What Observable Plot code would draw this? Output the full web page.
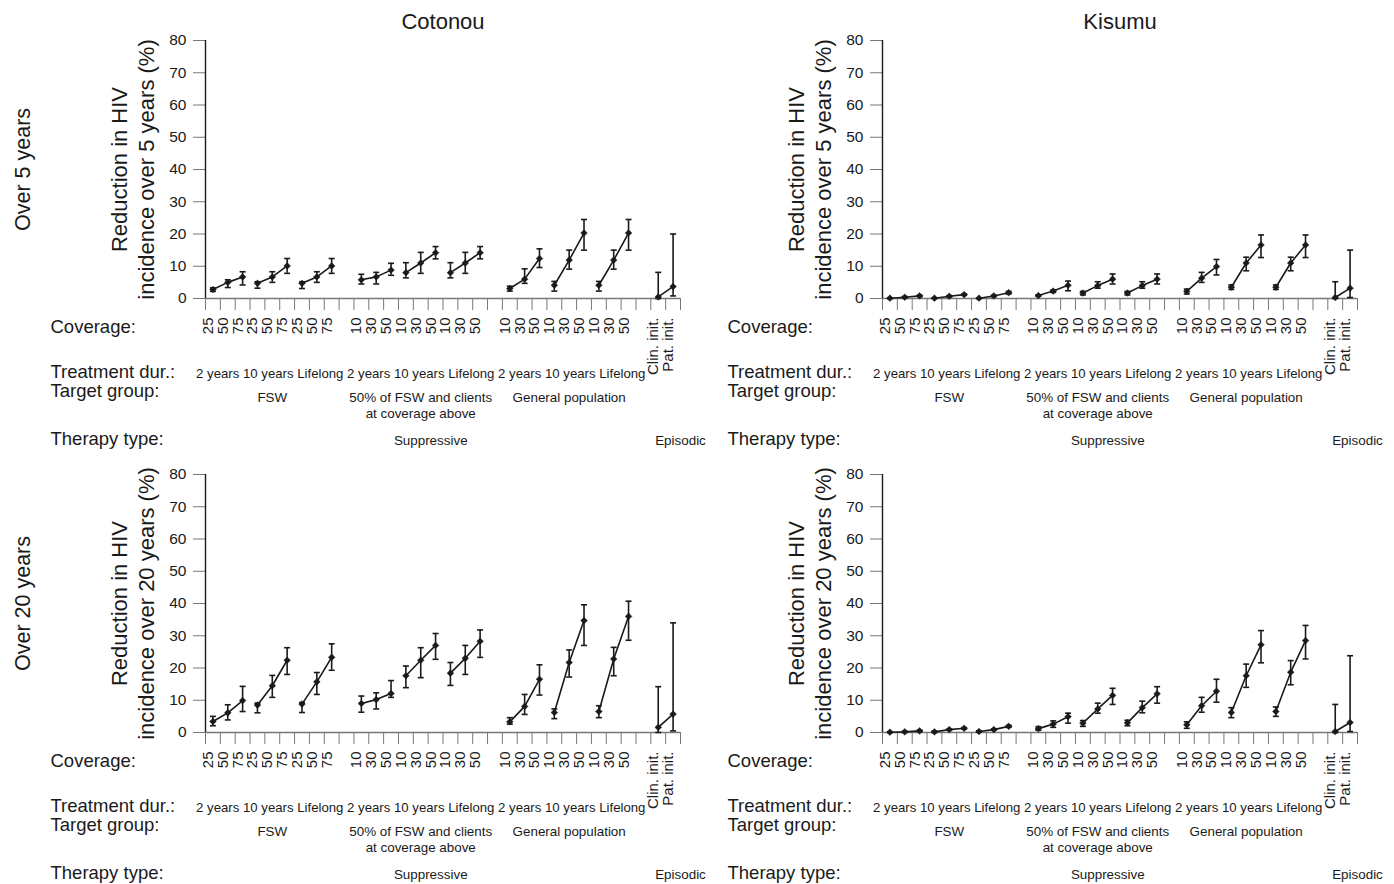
<!DOCTYPE html>
<html>
<head>
<meta charset="utf-8">
<script src="https://cdn.jsdelivr.net/npm/d3@7"></script>
<script src="https://cdn.jsdelivr.net/npm/@observablehq/plot@0.6"></script>
<style>
  html, body { margin: 0; padding: 0; background: #fff; }
  #root { position: relative; width: 1394px; height: 884px; overflow: hidden; }
  .panel { position: absolute; }
</style>
</head>
<body>
<div id="root"></div>
<script>
// ---------- DATA ----------
const cities = ["Cotonou", "Kisumu"];
const horizons = [5, 20];
const rowLabels = ["Over 5 years", "Over 20 years"];

const coverageLabels = ["25","50","75","25","50","75","25","50","75",
                        "10","30","50","10","30","50","10","30","50",
                        "10","30","50","10","30","50","10","30","50",
                        "Clin. init.","Pat. init."];
const durationLabels = ["2 years", "10 years", "Lifelong"];
const targetGroups = ["FSW", "50% of FSW and clients\nat coverage above", "General population"];
const therapyTypes = ["Suppressive", "Episodic"];

// Cotonou, over 5 years
const cot5Mean = [2.8,5.0,6.7, 4.7,6.7,10.1, 4.7,6.7,10.1, 5.8,6.7,8.8, 8.0,11.0,14.2, 8.0,11.0,14.2, 3.1,6.0,12.4, 4.1,11.9,20.3, 4.1,11.9,20.3, 0.5,3.7];
const cot5Lo   = [2.2,3.4,4.2, 3.2,5.0,7.8, 3.1,5.0,7.8, 4.5,4.5,7.2, 6.4,7.8,12.3, 6.4,7.8,12.3, 2.3,4.7,9.6, 2.3,9.1,15.0, 2.3,9.1,15.0, 0.0,0.8];
const cot5Hi   = [3.3,5.8,8.3, 5.2,8.3,12.4, 5.2,8.3,12.4, 7.5,8.1,10.9, 11.1,14.3,16.1, 11.1,14.3,16.1, 3.8,9.2,15.4, 5.3,15.0,24.5, 5.3,15.0,24.5, 8.1,20.0];

// Kisumu, over 5 years
const kis5Mean = [0.1,0.4,0.8, 0.1,0.7,1.2, 0.1,0.8,1.8, 0.9,2.3,4.1, 1.7,4.0,6.0, 1.7,4.0,6.0, 2.2,6.3,9.9, 3.5,11.0,16.6, 3.5,11.0,16.6, 0.3,3.2];
const kis5Lo   = [0.0,0.2,0.6, 0.0,0.5,1.0, 0.0,0.6,1.4, 0.7,1.9,2.4, 1.1,3.2,4.5, 1.1,3.2,4.5, 1.4,5.0,7.3, 2.8,8.6,12.7, 2.8,8.6,12.7, 0.0,0.3];
const kis5Hi   = [0.2,0.6,1.0, 0.2,0.9,1.4, 0.2,1.0,2.2, 1.1,2.6,5.4, 2.2,5.2,7.6, 2.2,5.2,7.6, 2.9,8.1,12.1, 4.2,12.8,19.7, 4.2,12.8,19.7, 5.2,15.0];

// Cotonou, over 20 years
const cot20Mean = [3.4,6.1,9.9, 8.5,14.5,22.4, 8.8,15.7,23.3, 9.0,10.2,12.1, 17.6,22.4,27.0, 18.4,23.0,28.3, 3.3,8.1,16.5, 6.2,21.7,34.7, 6.5,22.8,36.0, 1.6,5.7];
const cot20Lo   = [2.1,3.9,6.5, 6.1,10.9,18.0, 6.2,11.8,19.3, 6.3,7.3,10.9, 13.9,17.0,22.7, 14.6,18.0,23.3, 2.6,5.6,11.6, 4.3,17.2,27.0, 4.6,17.6,28.6, 0.0,0.5];
const cot20Hi   = [5.0,8.6,14.3, 9.1,17.7,26.3, 9.3,18.6,27.5, 11.3,12.3,16.1, 20.6,26.3,30.7, 21.7,27.0,31.8, 4.6,11.8,21.0, 7.3,25.6,39.6, 8.3,26.4,40.7, 14.2,34.0];

// Kisumu, over 20 years
const kis20Mean = [0.1,0.2,0.5, 0.2,0.9,1.3, 0.3,0.9,1.9, 1.2,2.6,4.9, 2.9,7.3,11.5, 3.0,7.7,12.0, 2.4,8.3,12.8, 6.2,17.6,27.2, 6.5,18.7,28.5, 0.3,3.1];
const kis20Lo   = [0.0,0.0,0.3, 0.0,0.7,1.1, 0.1,0.7,1.6, 0.7,1.6,2.9, 1.9,6.0,8.7, 2.1,6.1,9.1, 1.3,6.3,9.4, 4.6,14.0,21.6, 5.0,14.8,22.8, 0.0,0.3];
const kis20Hi   = [0.2,0.4,0.7, 0.4,1.1,1.5, 0.5,1.1,2.2, 1.8,3.6,6.0, 3.7,9.1,13.7, 3.8,9.7,14.2, 3.3,10.9,16.5, 7.7,21.2,31.6, 7.9,22.3,33.2, 8.7,23.8];

const yTicks = [0,10,20,30,40,50,60,70,80];

// ---------- STRUCTURE ----------
// 3 suppressive groups of 9 slots, each followed by a blank slot, then 2 episodic slots
const nSlots = 32;
const slotOf = i => i < 27 ? Math.floor(i / 9) * 10 + (i % 9) + 0.5 : 30 + (i - 27) + 0.5;
const seriesOf = i => i < 27 ? Math.floor(i / 3) : 9;
const groupCenter = g => g * 10 + 4.5;
const suppCenter = (0 + 29) / 2;
const idx = d3.range(coverageLabels.length);

const FONT = '"Liberation Sans", Arial, Helvetica, sans-serif';
const INK = "#1a1a1a";

const capSymbol = {
  draw(ctx, size) {
    const w = Math.sqrt(size / Math.PI);
    ctx.moveTo(-w, 0);
    ctx.lineTo(w, 0);
  }
};

const panels = [
  {city: 0, row: 0, mean: cot5Mean, lo: cot5Lo, hi: cot5Hi},
  {city: 1, row: 0, mean: kis5Mean, lo: kis5Lo, hi: kis5Hi},
  {city: 0, row: 1, mean: cot20Mean, lo: cot20Lo, hi: cot20Hi},
  {city: 1, row: 1, mean: kis20Mean, lo: kis20Lo, hi: kis20Hi}
];

function makePanel(p) {
  const mean = i => p.mean[i], lo = i => p.lo[i], hi = i => p.hi[i];
  const capFont = 18.5;
  const marks = [
    // y-axis label
    Plot.text([`Reduction in HIV\nincidence over ${horizons[p.row]} years (%)`], {
      frameAnchor: "left", dx: -52, rotate: -90, lineAnchor: "bottom", lineHeight: 1.22,
      textAnchor: "middle", fontSize: 22, fill: INK
    }),
    // axes
    Plot.axisY({ticks: yTicks, tickSize: 12, tickPadding: 7, fontSize: 15.5, stroke: "#777", fill: INK, label: null}),
    Plot.axisX({ticks: d3.range(nSlots + 1), tickSize: 12, tickFormat: () => "", stroke: "#777", label: null}),
    Plot.ruleY([0], {stroke: "#777", strokeWidth: 1.4}),
    Plot.ruleX([0], {stroke: INK, strokeWidth: 1.4}),
    // coverage tick labels
    Plot.text(idx, {x: slotOf, text: i => coverageLabels[i], frameAnchor: "bottom", rotate: -90,
      textAnchor: "end", dy: 19, fontSize: 15, fill: INK}),
    // row captions on the left
    Plot.text(["Coverage:"], {frameAnchor: "bottom-left", dx: -155, dy: 34, textAnchor: "start", lineAnchor: "bottom", fontSize: capFont, fill: INK}),
    Plot.text(["Treatment dur.:"], {frameAnchor: "bottom-left", dx: -155, dy: 79, textAnchor: "start", lineAnchor: "bottom", fontSize: capFont, fill: INK}),
    Plot.text(["Target group:"], {frameAnchor: "bottom-left", dx: -155, dy: 98, textAnchor: "start", lineAnchor: "bottom", fontSize: capFont, fill: INK}),
    Plot.text(["Therapy type:"], {frameAnchor: "bottom-left", dx: -155, dy: 146, textAnchor: "start", lineAnchor: "bottom", fontSize: capFont, fill: INK}),
    // treatment durations
    Plot.text([0], {x: suppCenter, text: () => [0,1,2].map(() => durationLabels.join(" ")).join(" "),
      frameAnchor: "bottom", dy: 79, lineAnchor: "bottom", fontSize: 13.2, fill: INK}),
    // target groups
    Plot.text(d3.range(3), {x: groupCenter, text: g => targetGroups[g], frameAnchor: "bottom", dy: 92,
      lineAnchor: "top", lineHeight: 1.2, fontSize: 13.4, fill: INK}),
    // therapy types
    Plot.text([0], {x: suppCenter, text: () => therapyTypes[0], frameAnchor: "bottom", dx: 10, dy: 146, lineAnchor: "bottom", fontSize: 13.4, fill: INK}),
    Plot.text([0], {x: nSlots, text: () => therapyTypes[1], frameAnchor: "bottom", dy: 146, lineAnchor: "bottom", fontSize: 13.4, fill: INK}),
    // data
    Plot.ruleX(idx, {x: slotOf, y1: lo, y2: hi, stroke: INK, strokeWidth: 1.6}),
    Plot.dot(idx, {x: slotOf, y: lo, symbol: capSymbol, r: 3, fill: "none", stroke: INK, strokeWidth: 1.6}),
    Plot.dot(idx, {x: slotOf, y: hi, symbol: capSymbol, r: 3, fill: "none", stroke: INK, strokeWidth: 1.6}),
    Plot.line(idx, {x: slotOf, y: mean, z: seriesOf, stroke: INK, strokeWidth: 1.6}),
    Plot.dot(idx, {x: slotOf, y: mean, symbol: "diamond2", r: 3, fill: INK, stroke: INK, strokeWidth: 0.5})
  ];
  if (p.row === 0) {
    marks.push(Plot.text([cities[p.city]], {frameAnchor: "top", dy: -12, lineAnchor: "bottom", fontSize: 22, fill: INK}));
  }
  if (p.city === 0) {
    marks.push(Plot.text([rowLabels[p.row]], {frameAnchor: "left", dx: -176, rotate: -90, lineAnchor: "bottom",
      textAnchor: "middle", fontSize: 21.5, fill: INK}));
  }
  return Plot.plot({
    width: 717, height: 450,
    marginLeft: 205, marginRight: 37, marginTop: 40, marginBottom: 152,
    x: {domain: [0, nSlots]},
    y: {domain: [0, 80]},
    style: {fontFamily: FONT, background: "transparent", overflow: "visible", color: INK},
    marks
  });
}

const root = document.getElementById("root");
panels.forEach(p => {
  const div = document.createElement("div");
  div.className = "panel";
  div.style.left = (p.city === 0 ? 0 : 677) + "px";
  div.style.top = (p.row === 0 ? 0 : 434) + "px";
  div.appendChild(makePanel(p));
  root.appendChild(div);
});
</script>
</body>
</html>
